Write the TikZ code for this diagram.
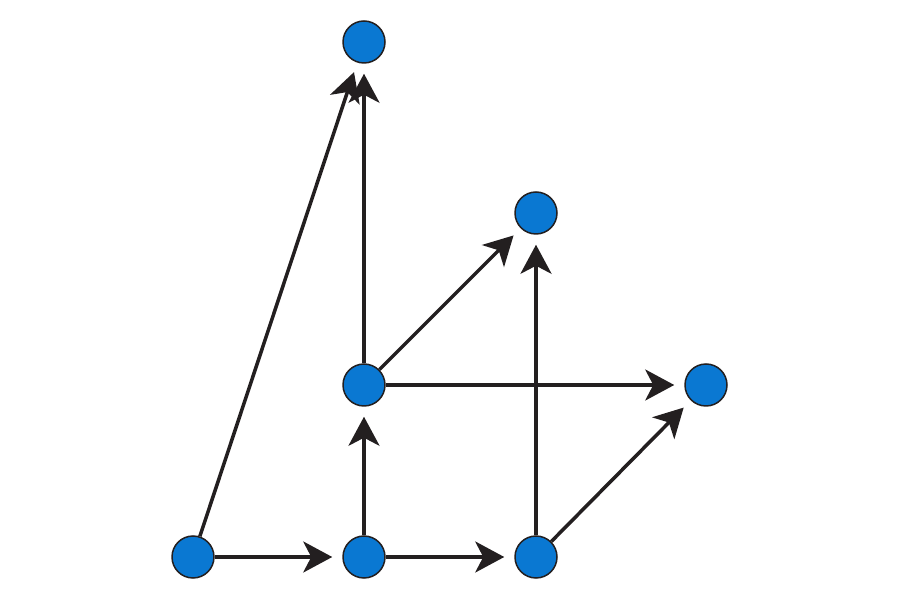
\documentclass[tikz,border=0pt]{standalone}
\usepackage{tikz}
\usetikzlibrary{arrows.meta}

\definecolor{dotblue}{HTML}{0A78D2}
\definecolor{inkblack}{HTML}{231F20}

\begin{document}
\begin{tikzpicture}[
    dot/.style={circle, fill=dotblue, draw=inkblack, line width=0.85pt, minimum size=0.84cm, inner sep=0pt},
    edge/.style={draw=inkblack, line width=2pt, shorten >=0.2cm, -{Stealth[length=0.58cm, width=0.62cm, inset=0.16cm]}}
  ]
    \useasboundingbox (0,0) rectangle (18,12);

    \node[dot] (A) at (3.86, 0.86) {};
    \node[dot] (B) at (7.28, 0.86) {};
    \node[dot] (C) at (10.72, 0.86) {};
    \node[dot] (D) at (7.28, 4.30) {};
    \node[dot] (E) at (14.12, 4.30) {};
    \node[dot] (F) at (10.72, 7.74) {};
    \node[dot] (G) at (7.28, 11.16) {};

    \draw[edge] (A) -- (G);
    \draw[edge] (A) -- (B);
    \draw[edge] (B) -- (C);
    \draw[edge] (B) -- (D);
    \draw[edge] (D) -- (G);
    \draw[edge] (D) -- (F);
    \draw[edge] (D) -- (E);
    \draw[edge] (C) -- (F);
    \draw[edge] (C) -- (E);
  \end{tikzpicture}
\end{document}
